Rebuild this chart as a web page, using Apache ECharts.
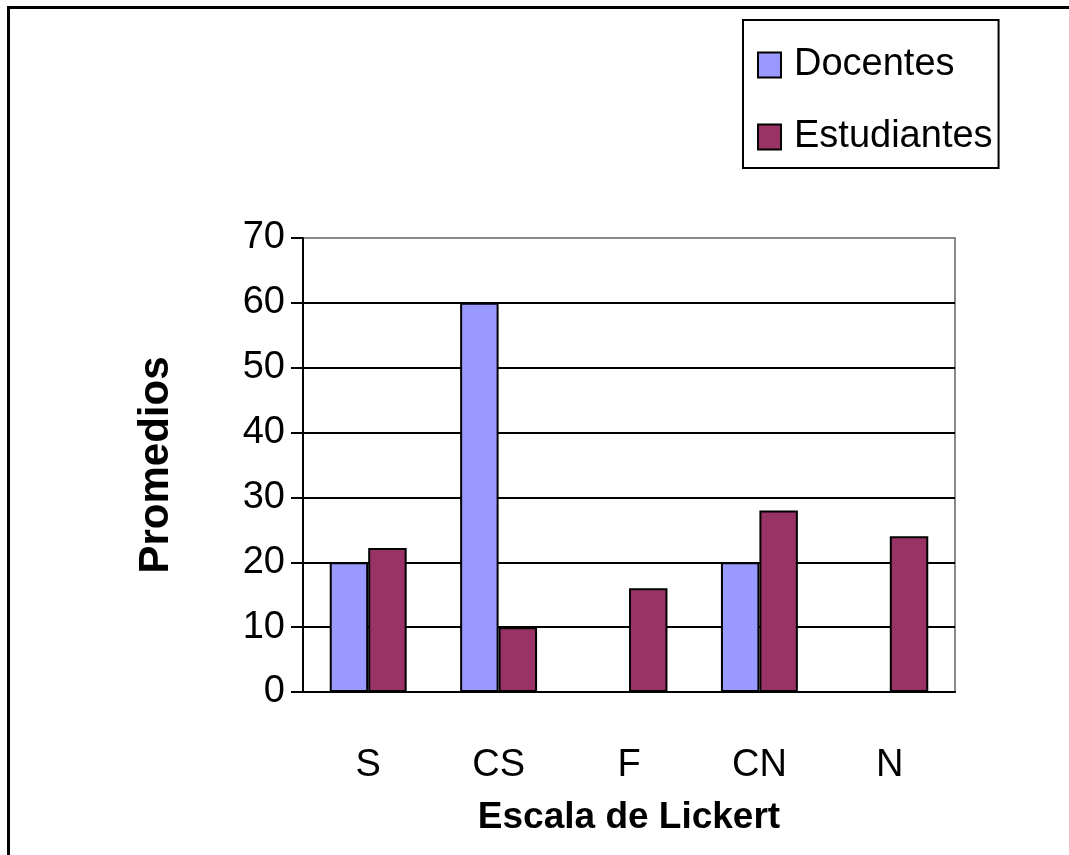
<!DOCTYPE html>
<html>
<head>
<meta charset="utf-8">
<script src="https://cdn.jsdelivr.net/npm/echarts@6/dist/echarts.min.js"></script>
<style>
  html, body { margin: 0; padding: 0; background: #fff; overflow: hidden; }
  #frame {
    position: absolute; left: 7px; top: 6px; right: -10px; bottom: -10px;
    border: 3px solid #000;
  }
  #chart { position: absolute; left: 0; top: 0; width: 1069px; height: 855px; }
</style>
</head>
<body>
<div id="frame"></div>
<div id="chart"></div>
<script>
// categorías de la escala
const categorias = ['S', 'CS', 'F', 'CN', 'N'];
// promedios por grupo
const docentes = [20, 60, 0, 20, 0];
const estudiantes = [22.2, 10, 16, 28, 24];
// marcas del eje Y
const yMin = 0, yMax = 70, yPaso = 10;

const myChart = echarts.init(document.getElementById('chart'));
const fuente = '"Liberation Sans", Arial, sans-serif';

const option = {
  animation: false,
  textStyle: { fontFamily: fuente, color: '#000' },
  legend: {
    data: ['Docentes', 'Estudiantes'],
    orient: 'vertical',
    left: 743,
    top: 20,
    padding: [26, 6, 12, 14],
    borderColor: '#000',
    borderWidth: 2,
    itemWidth: 23,
    itemHeight: 25,
    itemGap: 34,
    icon: 'rect',
    textStyle: { fontSize: 38, color: '#000', fontFamily: fuente, padding: [0, 0, 0, 8] }
  },
  grid: {
    left: 303, top: 238, right: 114, bottom: 163,
    show: true, borderColor: '#888', borderWidth: 2
  },
  xAxis: {
    type: 'category',
    data: categorias,
    name: 'Escala de Lickert',
    nameLocation: 'middle',
    nameGap: 107,
    nameTextStyle: { fontSize: 37, fontWeight: 'bold', color: '#000', fontFamily: fuente },
    axisLine: { lineStyle: { color: '#000', width: 2 } },
    axisTick: { length: 10, lineStyle: { color: '#000', width: 2 } },
    axisLabel: { fontSize: 38, color: '#000', margin: 55, fontFamily: fuente }
  },
  yAxis: {
    type: 'value',
    min: yMin, max: yMax, interval: yPaso,
    name: 'Promedios',
    nameLocation: 'middle',
    nameGap: 126,
    nameTextStyle: { fontSize: 42, fontWeight: 'bold', color: '#000', fontFamily: fuente },
    axisLine: { show: true, lineStyle: { color: '#000', width: 2 } },
    axisTick: { show: true, length: 12, lineStyle: { color: '#000', width: 2 } },
    axisLabel: { fontSize: 38, color: '#000', margin: 18, fontFamily: fuente },
    splitLine: {
      lineStyle: {
        color: ['#000', '#000', '#000', '#000', '#000', '#000', '#000', '#888'],
        width: 2
      }
    }
  },
  series: [
    {
      name: 'Docentes',
      type: 'bar',
      data: docentes,
      barWidth: '29.5%',
      barGap: '0%',
      itemStyle: { color: '#9999FF', borderColor: '#000', borderWidth: 2 }
    },
    {
      name: 'Estudiantes',
      type: 'bar',
      data: estudiantes,
      barWidth: '29.5%',
      barGap: '0%',
      itemStyle: { color: '#993366', borderColor: '#000', borderWidth: 2 }
    }
  ]
};

myChart.setOption(option);
</script>
</body>
</html>
